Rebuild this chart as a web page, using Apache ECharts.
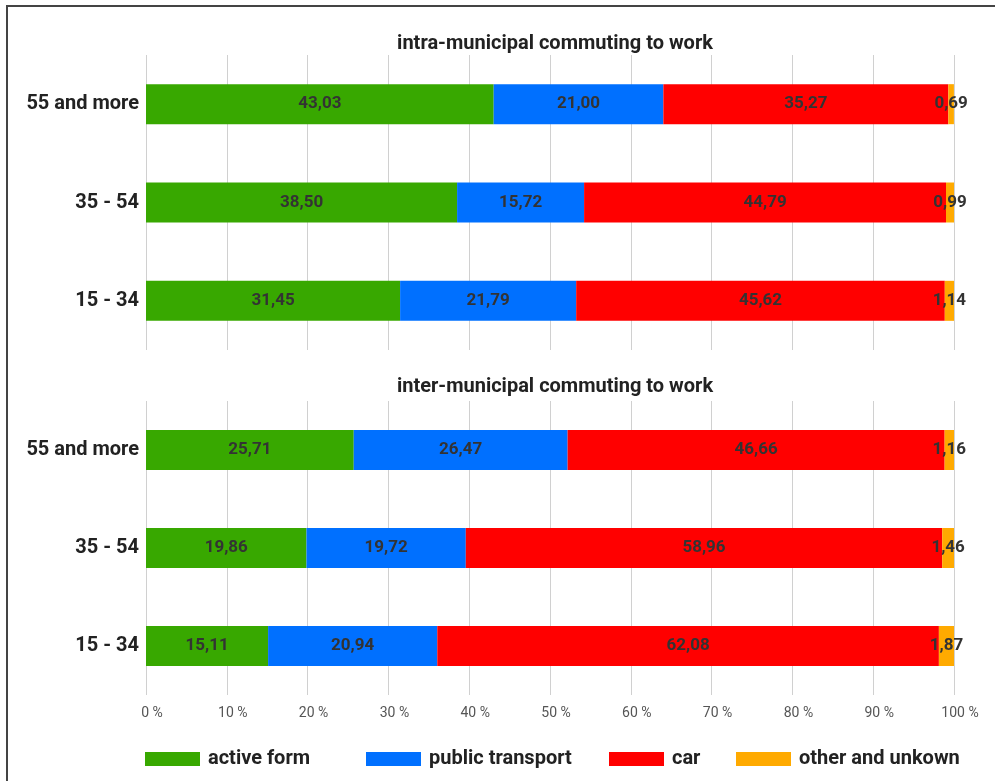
<!DOCTYPE html>
<html>
<head>
<meta charset="utf-8">
<script src="https://cdn.jsdelivr.net/npm/echarts@6/dist/echarts.min.js"></script>
<style>
  html, body { margin: 0; padding: 0; background: #fff; overflow: hidden; }
  #chart { width: 995px; height: 781px; }
  #frame { position: absolute; left: 6px; top: 5px; width: 1000px; height: 800px; border: 2px solid #444; pointer-events: none; }
</style>
</head>
<body>
<div id="chart"></div>
<div id="frame"></div>
<script>
// age groups, bottom to top
const categories = ['15 - 34', '35 - 54', '55 and more'];
const seriesNames = ['active form', 'public transport', 'car', 'other and unkown'];
const colors = ['#38a800', '#0070ff', '#ff0000', '#ffaa00'];
const titles = ['intra-municipal commuting to work', 'inter-municipal commuting to work'];

// intra-municipal
const intraActive = [31.45, 38.50, 43.03];
const intraPublic = [21.79, 15.72, 21.00];
const intraCar = [45.62, 44.79, 35.27];
const intraOther = [1.14, 0.99, 0.69];

// inter-municipal
const interActive = [15.11, 19.86, 25.71];
const interPublic = [20.94, 19.72, 26.47];
const interCar = [62.08, 58.96, 46.66];
const interOther = [1.87, 1.46, 1.16];

const FONT = '"Liberation Sans Narrow", "Roboto", sans-serif';
const legendLeft = [140, 361, 604, 731];

var chart = echarts.init(document.getElementById('chart'));

function makeSeries(data, idx, gridIdx) {
  return {
    name: seriesNames[idx],
    type: 'bar',
    stack: 'g' + gridIdx,
    xAxisIndex: gridIdx,
    yAxisIndex: gridIdx,
    barWidth: 40,
    itemStyle: { color: colors[idx] },
    label: {
      show: true,
      position: 'inside',
      color: '#333',
      fontFamily: FONT,
      fontWeight: 'bold',
      fontSize: 17,
      formatter: p => p.value.toFixed(2).replace('.', ',')
    },
    data: data
  };
}

function xAx(gridIdx, showLabels) {
  return {
    type: 'value',
    gridIndex: gridIdx,
    min: 0,
    max: 100,
    interval: 10,
    axisLine: { show: false },
    axisTick: { show: false },
    splitLine: { show: true, lineStyle: { color: '#d0d0d0', width: 1 } },
    axisLabel: {
      show: showLabels,
      formatter: '{value} %',
      color: '#555',
      fontFamily: FONT,
      fontSize: 14,
      margin: 11,
      padding: [0, 0, 0, 12]
    }
  };
}

function yAx(gridIdx) {
  return {
    type: 'category',
    gridIndex: gridIdx,
    data: categories,
    axisLine: { show: false },
    axisTick: { show: false },
    axisLabel: {
      color: '#222',
      fontFamily: FONT,
      fontWeight: 'bold',
      fontSize: 20,
      margin: 7
    }
  };
}

var option = {
  animation: false,
  title: [
    { text: titles[0], left: 550, top: 29, textAlign: 'center',
      textStyle: { fontFamily: FONT, fontWeight: 'bold', fontSize: 20, color: '#222' } },
    { text: titles[1], left: 550, top: 372, textAlign: 'center',
      textStyle: { fontFamily: FONT, fontWeight: 'bold', fontSize: 20, color: '#222' } }
  ],
  legend: seriesNames.map((n, i) => ({
    data: [n],
    left: legendLeft[i],
    top: 744,
    icon: 'rect',
    itemWidth: 55,
    itemHeight: 14,
    textStyle: { fontFamily: FONT, fontWeight: 'bold', fontSize: 20, color: '#222', padding: [0, 0, 0, 3] }
  })),
  grid: [
    { left: 146, right: 41, top: 55, height: 295 },
    { left: 146, right: 41, top: 401, height: 294 }
  ],
  xAxis: [xAx(0, false), xAx(1, true)],
  yAxis: [yAx(0), yAx(1)],
  series: [
    makeSeries(intraActive, 0, 0),
    makeSeries(intraPublic, 1, 0),
    makeSeries(intraCar, 2, 0),
    makeSeries(intraOther, 3, 0),
    makeSeries(interActive, 0, 1),
    makeSeries(interPublic, 1, 1),
    makeSeries(interCar, 2, 1),
    makeSeries(interOther, 3, 1)
  ]
};

option && chart.setOption(option);
</script>
</body>
</html>
